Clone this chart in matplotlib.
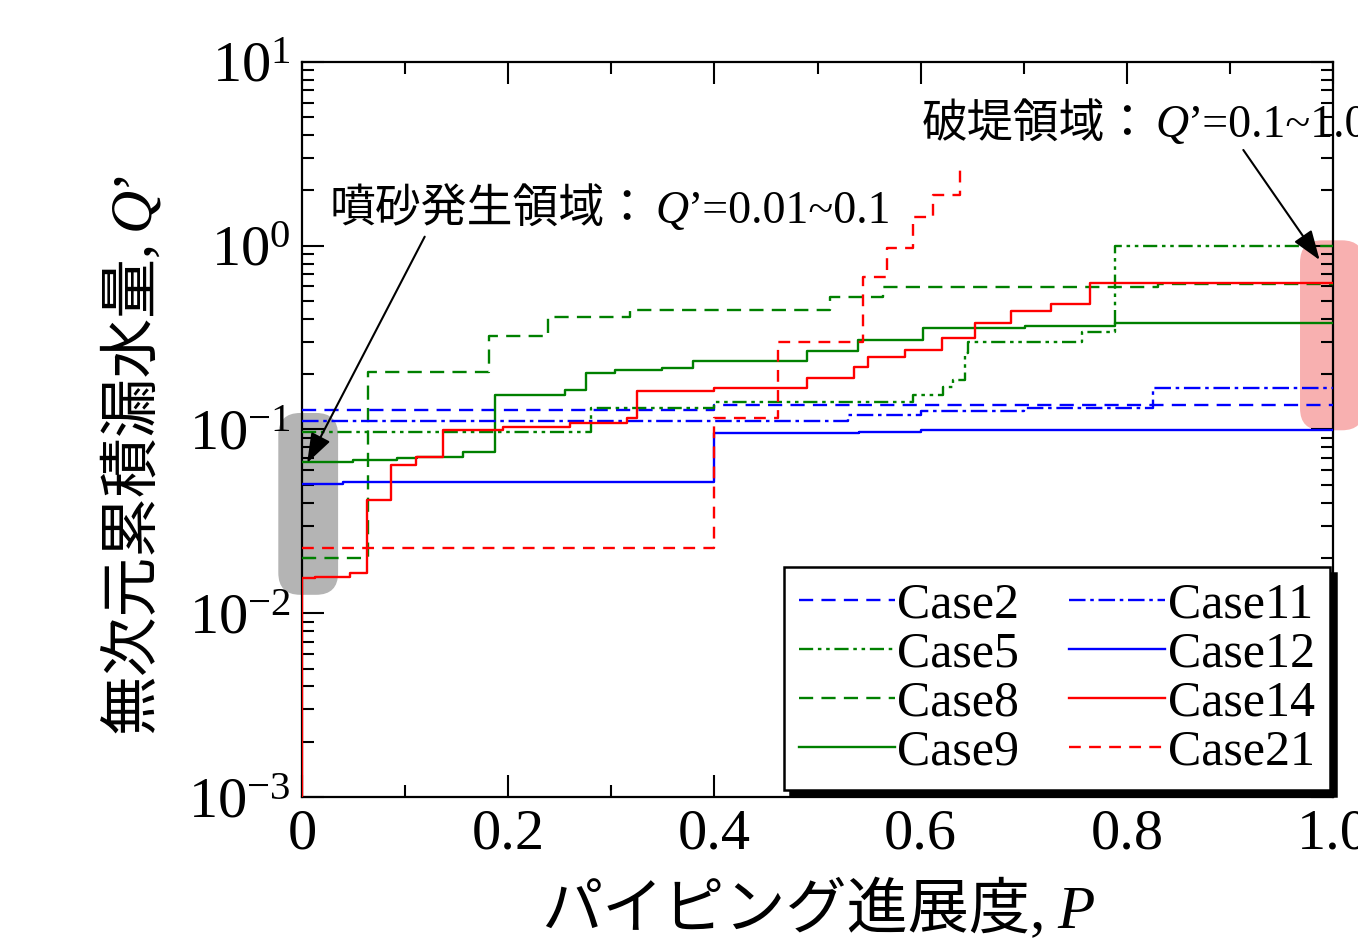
import matplotlib
matplotlib.use("Agg")
import matplotlib.pyplot as plt
from matplotlib.patches import FancyBboxPatch
from matplotlib.transforms import IdentityTransform
from matplotlib.ticker import FixedLocator, FixedFormatter, MultipleLocator, NullFormatter

# --- data (piping progress P vs dimensionless leakage Q') ---
case2_p = [0, 0.40, 1.0]
case2_q = [0.128, 0.136, 0.136]

case11_p = [0, 0.53, 0.60, 0.70, 0.825, 1.0]
case11_q = [0.111, 0.120, 0.126, 0.131, 0.168, 0.168]

case12_p = [0, 0.04, 0.40, 0.54, 0.60, 1.0]
case12_q = [0.0505, 0.0518, 0.0957, 0.097, 0.099, 0.099]

case5_p = [0, 0.28, 0.40, 0.593, 0.622, 0.631, 0.643, 0.646, 0.757, 0.789, 1.0]
case5_q = [0.0964, 0.131, 0.141, 0.154, 0.170, 0.186, 0.26, 0.299, 0.34, 1.0, 1.0]

case8_p = [0, 0.064, 0.181, 0.239, 0.318, 0.512, 0.564, 0.83, 1.0]
case8_q = [0.020, 0.206, 0.323, 0.41, 0.447, 0.526, 0.597, 0.62, 0.62]

case9_p = [0, 0.049, 0.092, 0.112, 0.156, 0.187, 0.255, 0.275, 0.304, 0.349,
           0.379, 0.49, 0.539, 0.602, 0.701, 0.789, 1.0]
case9_q = [0.0665, 0.068, 0.070, 0.0707, 0.075, 0.154, 0.164, 0.203, 0.211, 0.216,
           0.236, 0.268, 0.307, 0.357, 0.368, 0.38, 0.38]

case14_p = [0, 0, 0.013, 0.047, 0.063, 0.086, 0.111, 0.137, 0.195, 0.26, 0.315,
            0.325, 0.40, 0.49, 0.535, 0.549, 0.585, 0.621, 0.653, 0.688, 0.726,
            0.764, 1.0]
case14_q = [0.001, 0.0156, 0.0158, 0.0166, 0.0413, 0.064, 0.0707, 0.0988, 0.103,
            0.109, 0.115, 0.161, 0.168, 0.19, 0.218, 0.248, 0.27, 0.316, 0.38,
            0.44, 0.48, 0.627, 0.627]

case21_p = [0, 0.40, 0.462, 0.544, 0.567, 0.593, 0.612, 0.638]
case21_q = [0.0226, 0.116, 0.30, 0.676, 0.97, 1.43, 1.89, 2.75]

xtick_vals = [0, 0.2, 0.4, 0.6, 0.8, 1.0]
xtick_labels = ["0", "0.2", "0.4", "0.6", "0.8", "1.0"]

# highlighted regions: (P range, Q range)
sand_p, sand_q = (-0.023, 0.035), (0.0126, 0.123)
break_p, break_q = (0.968, 1.03), (0.099, 1.07)

SERIF = ["Liberation Serif", "Noto Sans CJK JP"]
plt.rcParams["font.family"] = SERIF
plt.rcParams["mathtext.fontset"] = "custom"
plt.rcParams["mathtext.rm"] = "Liberation Serif"
plt.rcParams["mathtext.it"] = "Liberation Serif:italic"
plt.rcParams["mathtext.bf"] = "Liberation Serif:bold"

fig = plt.figure(figsize=(13.58, 9.43), dpi=100)
ax = fig.add_axes([0.2224, 0.1548, 0.7592, 0.7795])

BLUE, GREEN, RED = "#0000ff", "#008000", "#ff0000"
LW = 1.7
series = [
    ("Case2", case2_p, case2_q, BLUE, (0, (6, 3.5))),
    ("Case5", case5_p, case5_q, GREEN, (0, (6, 2, 1.5, 2, 1.5, 2))),
    ("Case8", case8_p, case8_q, GREEN, (0, (6, 3.5))),
    ("Case9", case9_p, case9_q, GREEN, "-"),
    ("Case11", case11_p, case11_q, BLUE, (0, (7, 2, 1.5, 2))),
    ("Case12", case12_p, case12_q, BLUE, "-"),
    ("Case14", case14_p, case14_q, RED, "-"),
    ("Case21", case21_p, case21_q, RED, (0, (5, 3.5))),
]
for label, p, q, c, ls in series:
    ax.plot(p, q, drawstyle="steps-post", color=c, ls=ls, lw=LW, label=label, zorder=3)

ax.set_yscale("log")
ax.set_xlim(0, 1.0)
ax.set_ylim(1e-3, 1e1)

ax.xaxis.set_major_locator(FixedLocator(xtick_vals))
ax.xaxis.set_major_formatter(FixedFormatter(xtick_labels))
ax.xaxis.set_minor_locator(MultipleLocator(0.1))
ax.yaxis.set_minor_formatter(NullFormatter())
ax.tick_params(which="both", direction="in", top=True, right=True, width=1.5)
ax.tick_params(which="major", length=16, labelsize=42, pad=8)
ax.tick_params(which="minor", length=8.5)
for s in ax.spines.values():
    s.set_linewidth(1.6)

renderer = fig.canvas.get_renderer()


def rich(x, y, pieces, rotation=0, center=False):
    """Lay out text pieces one after another in display pixels, on one baseline."""
    texts, widths = [], []
    for s, props, gap in pieces:
        t = fig.text(0, 0, s, transform=IdentityTransform(), rotation=rotation,
                     rotation_mode="anchor", ha="left", va="baseline",
                     zorder=6, **props)
        bb = t.get_window_extent(renderer)
        texts.append(t)
        widths.append((bb.height if rotation == 90 else bb.width) + gap)
    pos = (y if rotation == 90 else x) - (sum(widths) / 2 if center else 0)
    for t, w in zip(texts, widths):
        t.set_position((x, pos) if rotation == 90 else (pos, y))
        pos += w


cjk = dict(family=SERIF)
ital = dict(family=SERIF, style="italic")

# axis labels, placed relative to the axes box
abox = ax.get_window_extent(renderer)
rich(abox.x0 + abox.width / 2, abox.y0 - 131,
     [("パイピング進展度,", dict(cjk, fontsize=44), 12),
      ("P", dict(ital, fontsize=44), 0)], center=True)
rich(abox.x0 - 154, abox.y0 + abox.height / 2 - 20,
     [("無次元累積漏水量,", dict(cjk, fontsize=43), 10),
      ("Q", dict(ital, fontsize=43), 0),
      ("’", dict(cjk, fontsize=43), 0)], rotation=90, center=True)


# rounded highlight bands, drawn in pixel space so the corners stay round
def band(prange, qrange, color):
    x0, y0 = ax.transData.transform((prange[0], qrange[0]))
    x1, y1 = ax.transData.transform((prange[1], qrange[1]))
    patch = FancyBboxPatch((x0, y0), x1 - x0, y1 - y0,
                           boxstyle="round,pad=0,rounding_size=22",
                           transform=IdentityTransform(), fc=color, ec="none",
                           zorder=1.5, clip_on=False)
    ax.add_patch(patch)


band(sand_p, sand_q, "#b4b4b4")
band(break_p, break_q, "#f8b0b0")

arrow = dict(arrowstyle="-|>,head_length=0.7,head_width=0.25", color="black",
             lw=1.5, mutation_scale=26, shrinkA=0, shrinkB=0)
ax.annotate("", xy=(0.005, 0.0658), xytext=(0.119, 1.12), arrowprops=arrow,
            annotation_clip=False, zorder=5)
ax.annotate("", xy=(0.987, 0.836), xytext=(0.913, 3.32), arrowprops=arrow,
            annotation_clip=False, zorder=5)

tx, ty = ax.transData.transform((0.027, 1.33))
rich(tx, ty, [("噴砂発生領域：", dict(cjk, fontsize=33), 4),
              ("Q", dict(ital, fontsize=33), 0),
              ("’=0.01~0.1", dict(cjk, fontsize=33), 0)])
tx, ty = ax.transData.transform((0.601, 3.91))
rich(tx, ty, [("破堤領域：", dict(cjk, fontsize=33), 4),
              ("Q", dict(ital, fontsize=33), 0),
              ("’=0.1~1.0", dict(cjk, fontsize=33), 0)])

leg = ax.legend(ncol=2, loc="lower right", bbox_to_anchor=(0.997, 0.0095),
                borderaxespad=0, fontsize=36, handlelength=1.92,
                handletextpad=0.05, columnspacing=1.0, labelspacing=0.05,
                borderpad=0.3, fancybox=False, framealpha=1,
                shadow={"color": "black", "alpha": 1, "ox": 4.5, "oy": -4.5})
leg.get_frame().set_edgecolor("black")
leg.get_frame().set_linewidth(1.8)
leg.set_zorder(7)

fig.savefig("out.png", dpi=100)
